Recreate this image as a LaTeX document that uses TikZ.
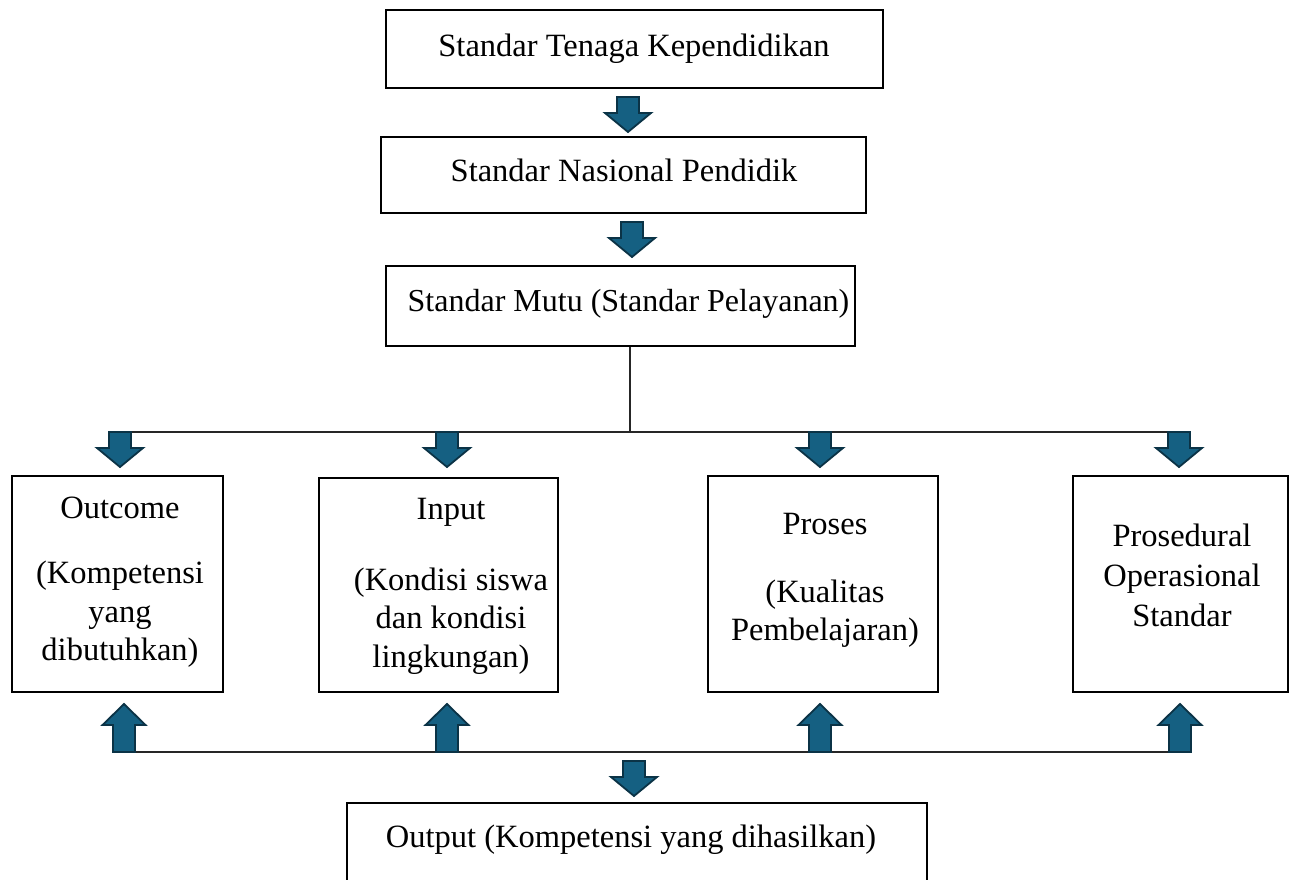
\documentclass[tikz,border=0pt]{standalone}
\usepackage{fontspec}
\setmainfont{Liberation Serif}
\definecolor{arrowfill}{HTML}{156082}
\definecolor{arrowline}{HTML}{0B3346}

\tikzset{
  box/.style={draw=black, line width=2.2pt, inner sep=0pt},
  txt/.style={inner sep=0pt, align=center, font=\fontsize{32.5}{38.5}\selectfont},
  wire/.style={draw=black!85, line width=1.3pt},
  blockarrow/.style={fill=arrowfill, draw=arrowline, line width=1.8pt, line join=miter},
  % block arrow pointing down, origin at the top of the shaft
  blockdown/.pic={
    \path[blockarrow] (-11,0) -- (11,0) -- (11,16) -- (23,16) -- (0,35)
      -- (-23,16) -- (-11,16) -- cycle;
  },
  % block arrow pointing up, origin at the bottom of the shaft
  blockup/.pic={
    \path[blockarrow] (-11,0) -- (11,0) -- (11,-27) -- (21.5,-27) -- (0,-48)
      -- (-21.5,-27) -- (-11,-27) -- cycle;
  }
}

\begin{document}
\begin{tikzpicture}[x=1pt, y=-1pt]
  \clip (0,0) rectangle (1291,879);
  \fill[white] (0,0) rectangle (1291,879);

  % upper chain of standards
  \node[box, minimum width=497, minimum height=78] (tenaga) at (634.5,49) {};
  \node[txt, anchor=base] (tenaga-t) at (634,56) {Standar Tenaga Kependidikan};

  \node[box, minimum width=485, minimum height=76] (nasional) at (623.5,175) {};
  \node[txt, anchor=base] (nasional-t) at (624,181) {Standar Nasional Pendidik};

  \node[box, minimum width=469, minimum height=80] (mutu) at (620.5,306) {};
  \node[txt, anchor=base, font=\fontsize{32}{38.5}\selectfont] (mutu-t) at (628.5,311) {Standar Mutu (Standar Pelayanan)};

  % four components
  \node[box, minimum width=211, minimum height=216] (outcome) at (117.5,584) {};
  \node[txt] (outcome-t) at (120,582) {Outcome\\[27pt](Kompetensi\\yang\\dibutuhkan)};

  \node[box, minimum width=239, minimum height=214] (input) at (438.5,585) {};
  \node[txt] (input-t) at (451,586) {Input\\[32.5pt](Kondisi siswa\\dan kondisi\\lingkungan)};

  \node[box, minimum width=230, minimum height=216] (proses) at (823,584) {};
  \node[txt] (proses-t) at (825,580.5) {Proses\\[29pt](Kualitas\\Pembelajaran)};

  \node[box, minimum width=215, minimum height=216] (pos) at (1180.5,584) {};
  \node[txt, font=\fontsize{32.5}{40}\selectfont] (pos-t) at (1182,575) {Prosedural\\Operasional\\Standar};

  % result
  \node[box, minimum width=580, minimum height=102] (output) at (637,854) {};
  \node[txt, anchor=base] (output-t) at (631,847) {Output (Kompetensi yang dihasilkan)};

  % distribution lines
  \coordinate (hub) at (630,432);
  \coordinate (busL) at (120,432);
  \coordinate (busR) at (1187,432);
  \coordinate (lowL) at (124,752);
  \coordinate (lowR) at (1190,752);
  \draw[wire] (hub |- mutu.south) -- (hub);
  \draw[wire] (busL) -- (busR);
  \draw[wire] (lowL) -- (lowR);

  % block arrows
  \pic at (628,97) {blockdown};
  \pic at (632,222) {blockdown};
  \pic at (120,432) {blockdown};
  \pic at (447,432) {blockdown};
  \pic at (820,432) {blockdown};
  \pic at (1179,432) {blockdown};
  \pic at (124,752) {blockup};
  \pic at (447,752) {blockup};
  \pic at (820,752) {blockup};
  \pic at (1180,752) {blockup};
  \pic at (634,761) {blockdown};
\end{tikzpicture}
\end{document}
